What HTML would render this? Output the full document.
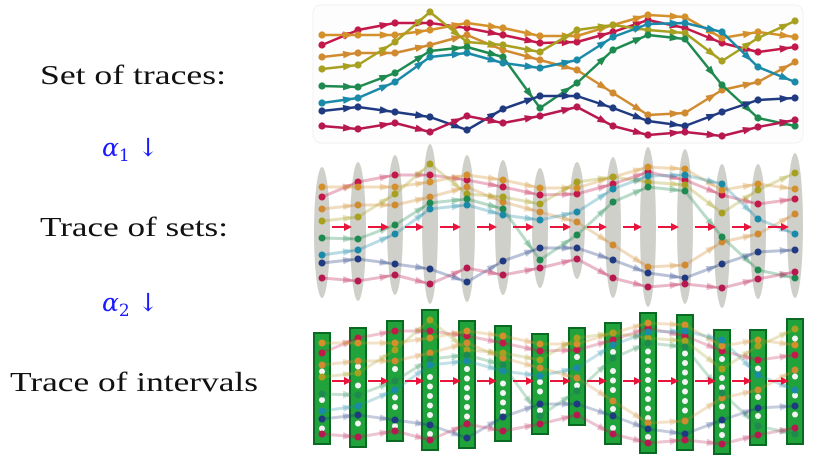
<!DOCTYPE html>
<html><head><meta charset="utf-8"><style>
body{margin:0;background:#fff;width:832px;height:465px;overflow:hidden}
svg{position:absolute;left:0;top:0}
.lbl{font-family:"Liberation Serif",serif;font-size:27px;fill:#111}
.al{font-family:"DejaVu Serif","Liberation Serif",serif;font-size:25px;fill:#1a1aff;font-style:italic}
</style></head><body>
<svg id="c" width="832" height="465">
<text class="lbl" x="40" y="84" textLength="186" lengthAdjust="spacingAndGlyphs">Set of traces:</text>
<text class="al" x="102" y="156">α<tspan font-size="17" font-style="normal" dy="5">1</tspan><tspan font-style="normal" dy="-5"> ↓</tspan></text>
<text class="lbl" x="40" y="236" textLength="188" lengthAdjust="spacingAndGlyphs">Trace of sets:</text>
<text class="al" x="102" y="311">α<tspan font-size="17" font-style="normal" dy="5">2</tspan><tspan font-style="normal" dy="-5"> ↓</tspan></text>
<text class="lbl" x="10" y="391" textLength="248" lengthAdjust="spacingAndGlyphs">Trace of intervals</text>
<rect x="313" y="5" width="490" height="138" rx="8" fill="#fdfdfd" stroke="#f2f2f2"/>
</svg>
<script>
const columns=[0,1,2,3,4,5,6,7,8,9,10,11,12,13];
const colX=[322,358,395,430,467,503,540,577,613,648,685,722,758,795];
const seriesColors=["#c2184a","#d4902a","#d08a30","#a8a020","#1f8a50","#1a8aa8","#1f3a80","#b81850"];
const redTop=[45,30,23,23,28,35,43,42,32,20,28,43,52,47];
const orangeTop=[35,35,35,30,23,28,36,36,25,15,17,38,32,37];
const orangeMid=[57,53,53,45,35,50,60,70,93,115,113,90,82,62];
const olive=[69,65,42,12,42,45,52,30,25,30,33,61,38,21];
const green=[86,87,73,51,47,57,108,83,50,35,39,85,118,126];
const teal=[103,98,82,57,53,63,68,60,37,24,23,32,67,82];
const navy=[111,107,112,117,130,109,96,96,108,121,126,112,100,98];
const redBottom=[126,129,123,132,116,123,116,107,126,135,132,136,127,120];
const series=[redTop,orangeTop,orangeMid,olive,green,teal,navy,redBottom];
const NS="http://www.w3.org/2000/svg",svg=document.getElementById('c');
function mk(t,a,n){const e=document.createElementNS(NS,t);for(const k in a)e.setAttribute(k,a[k]);


svg.appendChild(e);return e;}
function yS(v,off){return v+off;}
function arrowHead(x1,y1,x2,y2,c,op,s){const a=Math.atan2(y2-y1,x2-x1),mx=x1+(x2-x1)*0.7,my=y1+(y2-y1)*0.7;
const p=[[mx+s*Math.cos(a),my+s*Math.sin(a)],[mx+s*0.8*Math.cos(a+2.4),my+s*0.8*Math.sin(a+2.4)],[mx+s*0.8*Math.cos(a-2.4),my+s*0.8*Math.sin(a-2.4)]];
mk('polygon',{points:p.map(q=>q.join(',')).join(' '),fill:c,opacity:op},'trace-arrowhead');}
function traces(off,op,dots,w){series.forEach((s,si)=>{const c=seriesColors[si];
 for(let i=0;i<s.length-1;i++){const x1=colX[i],y1=yS(s[i],off),x2=colX[i+1],y2=yS(s[i+1],off);
  mk('line',{x1,y1,x2,y2,stroke:c,'stroke-width':w,opacity:op},'trace-segment');arrowHead(x1,y1,x2,y2,c,op,7);}
 if(dots)s.forEach((v,i)=>mk('circle',{cx:colX[i],cy:yS(v,off),r:3.6,fill:c},'trace-point'));});}
function colRange(i){let mn=1e9,mx=-1e9;series.forEach(s=>{mn=Math.min(mn,s[i]);mx=Math.max(mx,s[i]);});return [mn,mx];}
function redArrows(y){for(let i=0;i<colX.length-1;i++){const a=colX[i]+10,b=colX[i+1]-6;
 mk('line',{x1:a,y1:y,x2:b-6,y2:y,stroke:'#e8143c','stroke-width':2},'transition-arrow');
 mk('polygon',{points:`${b},${y} ${b-8},${y-4} ${b-8},${y+4}`,fill:'#e8143c'},'transition-arrowhead');}}
// top
traces(0,1,true,2.5);
// middle
const off2=152;
columns.forEach(i=>{const[mn,mx]=colRange(i);mk('ellipse',{cx:colX[i],cy:(mn+mx)/2+off2,rx:8,ry:(mx-mn)/2+20,fill:'#c8c8c2',opacity:0.85},'set-ellipse');});
traces(off2,0.3,false,3);
redArrows(227);
series.forEach((s,si)=>s.forEach((v,i)=>mk('circle',{cx:colX[i],cy:v+off2,r:3.5,fill:seriesColors[si]},'set-point')));
// bottom
const off3=308;
columns.forEach(i=>{const[mn,mx]=colRange(i);mk('rect',{x:colX[i]-8,y:mn+off3-10,width:16,height:mx-mn+20,fill:'#1fa33a',stroke:'#0b6a22','stroke-width':2},'interval-bar');});
traces(off3,0.25,false,3);
redArrows(381);
columns.forEach(i=>{const[mn,mx]=colRange(i);for(let y=mn;y<=mx;y+=9.5){if(!series.some(s=>Math.abs(s[i]-y)<5))mk('circle',{cx:colX[i],cy:y+off3,r:3,fill:'#f4f4f4'},'interval-empty-point');}});
series.forEach((s,si)=>s.forEach((v,i)=>mk('circle',{cx:colX[i],cy:v+off3,r:3.5,fill:seriesColors[si]},'interval-point')));
</script>
</body></html>
